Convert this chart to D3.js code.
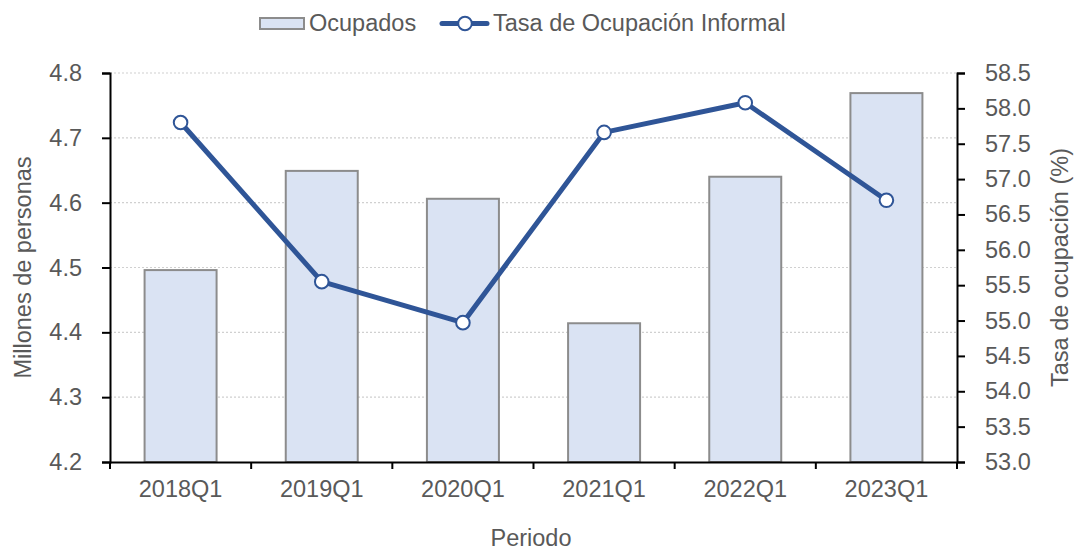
<!DOCTYPE html>
<html>
<head>
<meta charset="utf-8">
<script src="https://cdn.jsdelivr.net/npm/d3@7"></script>
<style>
  body { margin: 0; background: #fff; }
  svg, svg text { font-family: "Liberation Sans", Arial, sans-serif; }
</style>
</head>
<body>
<div id="chart"></div>
<script>
// data
const periods = ["2018Q1", "2019Q1", "2020Q1", "2021Q1", "2022Q1", "2023Q1"];
const ocupados = [4.496, 4.649, 4.606, 4.414, 4.640, 4.769];
const tasaInformal = [57.80, 55.55, 54.97, 57.66, 58.08, 56.70];
const leftTicks = [4.2, 4.3, 4.4, 4.5, 4.6, 4.7, 4.8];
const rightTicks = [53.0, 53.5, 54.0, 54.5, 55.0, 55.5, 56.0, 56.5, 57.0, 57.5, 58.0, 58.5];

const width = 1074, height = 552;
const margin = { top: 73, right: 117, bottom: 90, left: 110 };
const textColor = "#595959";
const lineColor = "#2f5597";
const fontSize = "23.5px";

const svg = d3.select("#chart").append("svg")
    .attr("width", width)
    .attr("height", height);

const x = d3.scaleBand()
    .domain(periods)
    .range([margin.left, width - margin.right])
    .paddingInner(0.49)
    .paddingOuter(0.245);

const y = d3.scaleLinear()
    .domain([4.2, 4.8])
    .range([height - margin.bottom, margin.top]);

const y2 = d3.scaleLinear()
    .domain([53, 58.5])
    .range([height - margin.bottom, margin.top]);

// gridlines
svg.append("g")
    .selectAll("line")
    .data(leftTicks.slice(1))
    .join("line")
    .attr("x1", margin.left)
    .attr("x2", width - margin.right)
    .attr("y1", d => y(d))
    .attr("y2", d => y(d))
    .attr("stroke", "#d0d0d0")
    .attr("stroke-width", 1.2)
    .attr("stroke-dasharray", "2,2");

// bars
svg.append("g")
    .selectAll("rect")
    .data(periods)
    .join("rect")
    .attr("x", d => x(d))
    .attr("y", (d, i) => y(ocupados[i]))
    .attr("width", x.bandwidth())
    .attr("height", (d, i) => y(4.2) - y(ocupados[i]))
    .attr("fill", "#dae3f3")
    .attr("stroke", "#8c8c8c")
    .attr("stroke-width", 2);

// axes
const leftAxis = svg.append("g")
    .attr("transform", `translate(${margin.left},0)`)
    .call(d3.axisLeft(y).tickValues(leftTicks).tickFormat(d3.format(".1f")).tickSize(8).tickPadding(20));

const rightAxis = svg.append("g")
    .attr("transform", `translate(${width - margin.right},0)`)
    .call(d3.axisRight(y2).tickValues(rightTicks).tickFormat(d3.format(".1f")).tickSize(8).tickPadding(20));

const xAxis = svg.append("g")
    .attr("transform", `translate(0,${height - margin.bottom})`)
    .call(d3.axisBottom(x).tickSize(0).tickPadding(18));

// category boundary ticks on x axis
const plotW = width - margin.left - margin.right;
svg.append("g")
    .selectAll("line")
    .data(d3.range(periods.length + 1))
    .join("line")
    .attr("x1", i => margin.left + i * plotW / periods.length)
    .attr("x2", i => margin.left + i * plotW / periods.length)
    .attr("y1", height - margin.bottom)
    .attr("y2", height - margin.bottom + 7)
    .attr("stroke", "#000")
    .attr("stroke-width", 2);

[leftAxis, rightAxis, xAxis].forEach(g => {
    g.attr("font-family", null).attr("font-size", null);
    g.select(".domain").attr("stroke", "#000").attr("stroke-width", 2);
    g.selectAll(".tick line").attr("stroke", "#000").attr("stroke-width", 2);
    g.selectAll(".tick text").attr("fill", textColor).style("font-size", fontSize);
});

// line
const line = d3.line()
    .x((d, i) => x(periods[i]) + x.bandwidth() / 2)
    .y(d => y2(d));

svg.append("path")
    .datum(tasaInformal)
    .attr("d", line)
    .attr("fill", "none")
    .attr("stroke", lineColor)
    .attr("stroke-width", 5)
    .attr("stroke-linejoin", "round");

svg.append("g")
    .selectAll("circle")
    .data(tasaInformal)
    .join("circle")
    .attr("cx", (d, i) => x(periods[i]) + x.bandwidth() / 2)
    .attr("cy", d => y2(d))
    .attr("r", 6.8)
    .attr("fill", "#fff")
    .attr("stroke", lineColor)
    .attr("stroke-width", 2);

// axis titles
svg.append("text")
    .attr("transform", `translate(25,${(margin.top + height - margin.bottom) / 2}) rotate(-90)`)
    .attr("text-anchor", "middle")
    .attr("dominant-baseline", "middle")
    .attr("fill", textColor)
    .style("font-size", fontSize)
    .text("Millones de personas");

svg.append("text")
    .attr("transform", `translate(1062,${(margin.top + height - margin.bottom) / 2}) rotate(-90)`)
    .attr("text-anchor", "middle")
    .attr("dominant-baseline", "middle")
    .attr("fill", textColor)
    .style("font-size", fontSize)
    .text("Tasa de ocupación (%)");

svg.append("text")
    .attr("x", 531)
    .attr("y", 546)
    .attr("text-anchor", "middle")
    .attr("fill", textColor)
    .style("font-size", fontSize)
    .text("Periodo");

// legend
const legend = svg.append("g");
legend.append("rect")
    .attr("x", 260).attr("y", 18)
    .attr("width", 44).attr("height", 11)
    .attr("fill", "#dae3f3")
    .attr("stroke", "#8c8c8c")
    .attr("stroke-width", 2);
legend.append("text")
    .attr("x", 309).attr("y", 30.5)
    .attr("fill", textColor)
    .style("font-size", fontSize)
    .text("Ocupados");
legend.append("line")
    .attr("x1", 442).attr("x2", 487)
    .attr("y1", 23.5).attr("y2", 23.5)
    .attr("stroke", lineColor)
    .attr("stroke-width", 5)
    .attr("stroke-linecap", "round");
legend.append("circle")
    .attr("cx", 465).attr("cy", 23.5).attr("r", 6.8)
    .attr("fill", "#fff")
    .attr("stroke", lineColor)
    .attr("stroke-width", 2);
legend.append("text")
    .attr("x", 493).attr("y", 30.5)
    .attr("fill", textColor)
    .style("font-size", fontSize)
    .text("Tasa de Ocupación Informal");
</script>
</body>
</html>
